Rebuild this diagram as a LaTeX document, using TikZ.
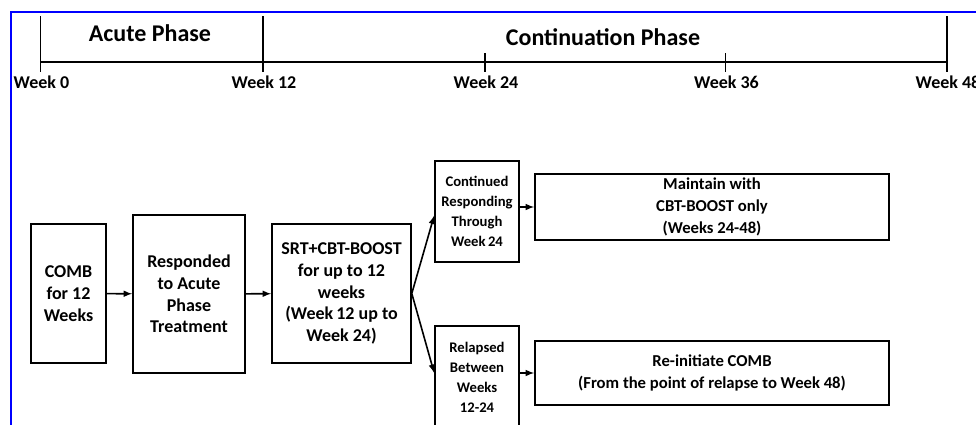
\documentclass[tikz,border=0pt]{standalone}
\usepackage{fontspec}
\setmainfont{Carlito}
\usepackage{tikz}

\tikzset{
  stage/.style={draw, line width=1.2pt, align=center, font=\bfseries\fontsize{13.5}{16.3}\selectfont, inner sep=1pt},
  smallstage/.style={stage, font=\bfseries\fontsize{11}{15}\selectfont},
  widestage/.style={stage, font=\bfseries\fontsize{12.5}{16.5}\selectfont},
  phase/.style={font=\bfseries\fontsize{18}{20}\selectfont},
  weeklbl/.style={font=\bfseries\fontsize{13.5}{15}\selectfont},
  flow/.style={line width=1.2pt,-latex}
}

\begin{document}
\begin{tikzpicture}[x=0.75pt,y=-0.75pt]
\useasboundingbox (0,0) rectangle (976,425);
% frame
\draw[blue,line width=1.8pt] (11,426) -- (11,12) -- (977,12);

% time line
\draw[line width=1.2pt] (40.5,62) -- (947,62);
\foreach \x/\top/\wk in {40.5/16/0, 263/16/12, 485/53/24, 725.5/53/36, 947/16/48}{
  \draw[line width=1.2pt] (\x,\top) -- (\x,72);
  \node[weeklbl] (wk\wk) at (\x+1,82) {Week \wk};
}
\node[phase] (acute) at (150,33) {Acute Phase};
\node[phase] (contin) at (603,37) {Continuation\ Phase};

% boxes
\node[stage, minimum width=56.25pt, minimum height=104.25pt] (comb) at (68.5,293.5) {COMB\\for 12\\Weeks};
\node[stage, minimum width=84pt, minimum height=118.5pt] (resp) at (189,294) {Responded\\to Acute\\Phase\\Treatment};
\node[stage, minimum width=104.25pt, minimum height=104.25pt] (srt) at (341.5,293.5) {SRT+CBT-BOOST\\for up to 12\\weeks\\(Week\,12 up to\\Week 24)};
\node[smallstage, minimum width=63pt, minimum height=75.75pt] (cont) at (477,211.5) {Continued\\Responding\\Through\\Week\,24};
\node[widestage, minimum width=265.5pt, minimum height=49.5pt] (maint) at (712,207) {Maintain with\\CBT-BOOST only\\(Weeks 24-48)};
\node[smallstage, minimum width=63pt, minimum height=76.5pt] (relap) at (477,377) {Relapsed\\Between\\Weeks\\12-24};
\node[widestage, minimum width=265.5pt, minimum height=48pt] (reinit) at (712,373) {Re-initiate COMB\\(From the point of relapse to Week 48)};

% arrows
\draw[flow] (comb) -- (resp);
\draw[flow] (resp) -- (srt);
\draw[flow] (srt.east) -- ([yshift=-3pt]cont.west);
\draw[flow] (srt.east) -- ([yshift=3pt]relap.west);
\draw[flow] (cont.east |- maint.west) -- (maint.west);
\draw[flow] (relap.east |- reinit.west) -- (reinit.west);
\end{tikzpicture}
\end{document}
